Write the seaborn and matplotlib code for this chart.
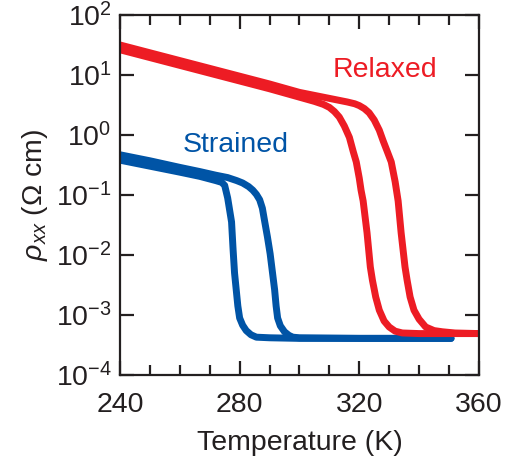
import numpy as np
import pandas as pd
import matplotlib
matplotlib.use("Agg")
import matplotlib.pyplot as plt
import seaborn as sns
from matplotlib.ticker import MultipleLocator, LogLocator, NullLocator

# ---------------- data (log10 of rho_xx in Ohm cm) ----------------
relaxed_cool_T = [240, 250, 260, 270, 280, 290, 300, 305, 308, 310, 311.7, 313.3, 315,
                  316.7, 318, 319, 320, 320.6, 321.3, 322.6, 323.7, 324.4, 325.5, 326.7,
                  328.3, 330, 332, 334.4, 340, 350, 360]
relaxed_cool_log = [1.42, 1.29, 1.16, 1.03, 0.90, 0.77, 0.63, 0.56, 0.51, 0.46, 0.39, 0.30,
                    0.15, -0.04, -0.28, -0.45, -0.72, -0.92, -1.10, -1.63, -2.20, -2.42,
                    -2.70, -2.92, -3.10, -3.20, -3.27, -3.30, -3.31, -3.31, -3.31]

relaxed_warm_T = [240, 250, 260, 270, 280, 290, 300, 305, 310, 316, 318.5, 320, 321.7,
                  323.3, 325, 326.7, 328, 329.4, 330.7, 332, 333, 334, 335.3, 336, 337,
                  338.3, 340, 342.2, 345, 347.8, 352, 360]
relaxed_warm_log = [1.50, 1.37, 1.24, 1.11, 0.98, 0.85, 0.71, 0.66, 0.61, 0.55, 0.52, 0.49,
                    0.44, 0.37, 0.25, 0.08, -0.10, -0.28, -0.45, -0.78, -1.10, -1.63, -2.20,
                    -2.42, -2.70, -2.92, -3.07, -3.20, -3.26, -3.28, -3.30, -3.31]

strained_cool_T = [240, 250, 260, 266.7, 272, 274, 275, 276, 277.3, 277.8, 278.3, 278.9,
                   279.4, 280, 281, 282.2, 283.8, 285.6, 290, 300, 320, 340, 350.7]
strained_cool_log = [-0.42, -0.52, -0.62, -0.69, -0.76, -0.79, -0.84, -1.05, -1.45, -1.90,
                     -2.30, -2.60, -2.85, -3.05, -3.17, -3.26, -3.33, -3.37, -3.38, -3.39,
                     -3.39, -3.39, -3.39]

strained_warm_T = [240, 250, 260, 266.7, 272, 276, 279, 281, 283, 284.4, 285.6, 286.7,
                   287.6, 288.3, 289.3, 290.2, 291, 291.7, 292.2, 292.7, 293.6, 295, 296.5,
                   297.8, 300, 320, 350.7]
strained_warm_log = [-0.33, -0.43, -0.54, -0.61, -0.67, -0.71, -0.76, -0.80, -0.86, -0.92,
                     -0.99, -1.08, -1.22, -1.42, -1.70, -1.98, -2.30, -2.58, -2.85, -3.05,
                     -3.18, -3.28, -3.34, -3.37, -3.38, -3.39, -3.39]

x_ticks = [240, 280, 320, 360]
label_relaxed = "Relaxed"
label_strained = "Strained"

RED = "#ED1C24"
BLUE = "#0054A6"
INK = "#231F20"


def branch_frame(T, lg, sample, branch):
    return pd.DataFrame({"T": T, "rho": 10.0 ** np.asarray(lg), "sample": sample,
                         "branch": branch})


strained_df = pd.concat([
    branch_frame(strained_cool_T, strained_cool_log, "Strained", "cool"),
    branch_frame(strained_warm_T, strained_warm_log, "Strained", "warm"),
], ignore_index=True)
relaxed_df = pd.concat([
    branch_frame(relaxed_cool_T, relaxed_cool_log, "Relaxed", "cool"),
    branch_frame(relaxed_warm_T, relaxed_warm_log, "Relaxed", "warm"),
], ignore_index=True)

# ---------------- style ----------------
sns.set_theme(style="ticks")
plt.rcParams["font.family"] = ["Liberation Sans", "DejaVu Sans"]
plt.rcParams["mathtext.fontset"] = "custom"
plt.rcParams["mathtext.rm"] = "Liberation Sans"
plt.rcParams["mathtext.it"] = "Liberation Sans:italic"
plt.rcParams["mathtext.bf"] = "Liberation Sans:bold"
plt.rcParams["mathtext.default"] = "regular"

FS = 20.5
fig = plt.figure(figsize=(5.10, 4.61), dpi=100)
ax = fig.add_axes([0.2353, 0.1866, 0.7037, 0.7809])

sns.lineplot(data=strained_df, x="T", y="rho", units="branch", estimator=None, sort=False,
             color=BLUE, linewidth=5, ax=ax, legend=False, solid_capstyle="round",
             solid_joinstyle="round")
sns.lineplot(data=relaxed_df, x="T", y="rho", units="branch", estimator=None, sort=False,
             color=RED, linewidth=5, ax=ax, legend=False, solid_capstyle="round",
             solid_joinstyle="round")

ax.set_yscale("log")
ax.set_xlim(240, 360)
ax.set_ylim(1e-4, 1e2)
ax.set_xticks(x_ticks)
ax.xaxis.set_minor_locator(MultipleLocator(10))
ax.yaxis.set_major_locator(LogLocator(base=10, numticks=20))
ax.yaxis.set_minor_locator(NullLocator())

for side in ["left", "right", "top", "bottom"]:
    ax.spines[side].set_visible(True)
    ax.spines[side].set_linewidth(1.6)
    ax.spines[side].set_color(INK)

ax.tick_params(which="both", direction="in", top=True, right=True, color=INK, width=1.6)
ax.tick_params(which="major", length=10, labelsize=FS, labelcolor=INK)
ax.tick_params(axis="x", which="major", pad=12)
ax.tick_params(axis="y", which="major", pad=6)
ax.tick_params(which="minor", length=7)

ax.set_xlabel("Temperature (K)", fontsize=FS, color=INK, labelpad=9)
ax.set_ylabel(r"$\mathit{\rho}_{\mathit{xx}}$ ($\Omega$ cm)", fontsize=FS, color=INK,
              labelpad=4)

ax.text(311, 10 ** 1.083, label_relaxed, color=RED, fontsize=FS, ha="left", va="center")
ax.text(261, 10 ** -0.167, label_strained, color=BLUE, fontsize=FS, ha="left", va="center")

fig.savefig("out.png", dpi=100)
